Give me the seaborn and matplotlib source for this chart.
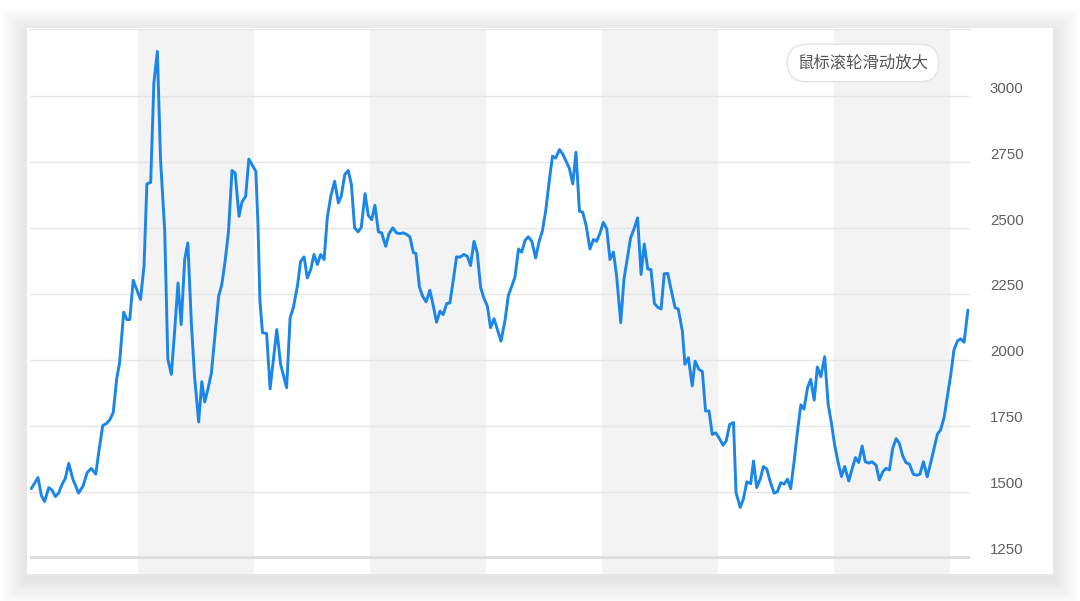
import numpy as np
import pandas as pd
import matplotlib
matplotlib.use("Agg")
import matplotlib.pyplot as plt
from matplotlib.patches import Rectangle
from matplotlib.transforms import ScaledTranslation
import seaborn as sns

# ── data ─────────────────────────────────────────────────────────────────────
START = pd.Timestamp("2011-01-01")

DAYS = [
    -335, -314, -303, -293, -280, -270, -259, -249, -237, -228, -217, -204,
    -186, -172, -159, -146, -132, -122, -110, -98, -87, -77, -66, -57, -44,
    -34, -25, -14, -1, 9, 20, 29, 41, 51, 62, 72, 85, 95, 106, 116, 127, 137,
    148, 158, 169, 179, 192, 202, 211, 221, 232, 244, 255, 265, 276, 286, 297,
    307, 319, 328, 340, 350, 372, 379, 385, 393, 406, 417, 438, 450, 469, 480,
    490, 503, 513, 524, 534, 545, 555, 566, 576, 587, 597, 608, 620, 632, 641,
    652, 663, 673, 683, 694, 704, 716, 726, 737, 747, 758, 768, 781, 791, 803,
    815, 826, 836, 847, 857, 868, 876, 887, 897, 908, 920, 931, 941, 952, 962,
    973, 983, 994, 1004, 1015, 1027, 1038, 1048, 1059, 1069, 1080, 1090, 1101,
    1111, 1122, 1130, 1144, 1157, 1167, 1178, 1188, 1199, 1209, 1220, 1230,
    1241, 1253, 1264, 1274, 1285, 1295, 1306, 1316, 1328, 1338, 1349, 1359,
    1370, 1380, 1391, 1401, 1412, 1424, 1435, 1445, 1456, 1466, 1477, 1487,
    1498, 1508, 1521, 1531, 1542, 1552, 1564, 1574, 1585, 1595, 1606, 1616,
    1627, 1637, 1648, 1658, 1669, 1679, 1692, 1702, 1715, 1723, 1734, 1746,
    1755, 1767, 1778, 1788, 1799, 1809, 1820, 1830, 1843, 1853, 1864, 1876,
    1884, 1897, 1907, 1918, 1930, 1939, 1949, 1960, 1970, 1981, 1991, 2004,
    2014, 2025, 2035, 2046, 2056, 2067, 2077, 2088, 2098, 2109, 2119, 2130,
    2140, 2151, 2163, 2174, 2184, 2195, 2205, 2216, 2226, 2239, 2249, 2260,
    2270, 2281, 2291, 2302, 2312, 2325, 2335, 2346, 2356, 2367, 2377, 2388,
    2398, 2409, 2419, 2430, 2442, 2453, 2463, 2474, 2486, 2497, 2507, 2518,
    2528, 2539, 2549, 2560, 2570, 2581, 2591, 2602, 2614,
]

PRICE = [
    1511, 1553, 1484, 1462, 1515, 1506, 1481, 1494, 1530, 1549, 1607, 1547,
    1494, 1521, 1572, 1588, 1566, 1654, 1751, 1758, 1774, 1800, 1928, 1989, 2181,
    2153, 2153, 2302, 2261, 2229, 2356, 2668, 2674, 3051, 3171, 2760, 2494, 2002,
    1945, 2103, 2292, 2134, 2381, 2444, 2141, 1938, 1764, 1917, 1840, 1888, 1949,
    2103, 2242, 2286, 2381, 2488, 2719, 2709, 2545, 2598, 2621, 2762, 2716, 2507,
    2222, 2103, 2100, 1890, 2115, 1983, 1894, 2160, 2198, 2280, 2374, 2391, 2311,
    2343, 2400, 2362, 2400, 2381, 2539, 2621, 2678, 2596, 2621, 2703, 2719, 2665,
    2501, 2486, 2503, 2631, 2549, 2532, 2587, 2486, 2482, 2431, 2478, 2501, 2482,
    2479, 2482, 2476, 2467, 2407, 2404, 2277, 2242, 2220, 2264, 2204, 2143, 2185,
    2172, 2214, 2216, 2305, 2391, 2390, 2400, 2393, 2358, 2450, 2407, 2274, 2235,
    2204, 2122, 2156, 2125, 2071, 2153, 2244, 2280, 2315, 2421, 2409, 2454, 2467,
    2450, 2387, 2450, 2488, 2568, 2671, 2773, 2766, 2798, 2782, 2754, 2728, 2668,
    2788, 2564, 2561, 2510, 2421, 2457, 2450, 2482, 2522, 2497, 2381, 2409, 2318,
    2141, 2305, 2387, 2463, 2501, 2539, 2324, 2440, 2345, 2343, 2214, 2200, 2193,
    2327, 2328, 2270, 2198, 2193, 2109, 1983, 2008, 1901, 1995, 1964, 1955, 1806,
    1806, 1717, 1723, 1705, 1676, 1692, 1755, 1762, 1496, 1440, 1471, 1537, 1530,
    1616, 1515, 1547, 1595, 1585, 1540, 1494, 1499, 1534, 1528, 1547, 1511, 1616,
    1724, 1829, 1813, 1894, 1926, 1847, 1973, 1936, 2012, 1831, 1762, 1673, 1613,
    1557, 1595, 1540, 1585, 1629, 1610, 1673, 1613, 1608, 1613, 1600, 1544, 1575,
    1588, 1582, 1663, 1701, 1683, 1635, 1610, 1604, 1566, 1562, 1566, 1613, 1556,
    1610, 1661, 1718, 1734, 1781, 1857, 1943, 2037, 2071, 2080, 2067, 2189,
]

SHADED_YEARS = [2011, 2013, 2015, 2017]
Y_TICKS = [1250, 1500, 1750, 2000, 2250, 2500, 2750, 3000]
X_RANGE_DAYS = (-339, 2620)
Y_RANGE = (1187, 3256)
HINT_TEXT = "鼠标滚轮滑动放大"

LINE_COLOR = "#1a86e8"
BAND_COLOR = "#f3f3f3"
GRID_COLOR = "#e6e6e6"

sns.set_theme(style="white")
plt.rcParams["font.family"] = ["Liberation Sans", "Noto Sans CJK SC", "DejaVu Sans"]

W, H, DPI = 1080, 601, 100
fig = plt.figure(figsize=(W / DPI, H / DPI), dpi=DPI)
fig.patch.set_facecolor("white")


def px_rect(x0, y0, x1, y1, **kw):
    # rectangle given in top-left pixel coords, drawn in figure fractions
    return Rectangle((x0 / W, 1 - y1 / H), (x1 - x0) / W, (y1 - y0) / H,
                     transform=fig.transFigure, zorder=-5, **kw)


# soft card shadow + card
CARD = (27, 28, 1053, 574)
for k in range(26, 0, -1):
    fig.patches.append(px_rect(CARD[0] - k, CARD[1] - k + 5, CARD[2] + k,
                               CARD[3] + k + 5, facecolor="black",
                               edgecolor="none", alpha=0.0022))
fig.patches.append(px_rect(*CARD, facecolor="white", edgecolor="none"))

# ── plot area ────────────────────────────────────────────────────────────────
ax = fig.add_axes([30 / W, 1 - 574 / H, 939.8 / W, 545 / H])
ax.set_facecolor("white")

dates = START + pd.to_timedelta(DAYS, unit="D")
df = pd.DataFrame({"date": dates, "price": PRICE})

for yr in SHADED_YEARS:
    ax.axvspan(pd.Timestamp(f"{yr}-01-01"), pd.Timestamp(f"{yr + 1}-01-01"),
               color=BAND_COLOR, lw=0, zorder=0)

for t in Y_TICKS[1:]:
    ax.axhline(t, color=GRID_COLOR, lw=1.0, zorder=1)
ax.axhline(Y_TICKS[0], color="#dddddd", lw=2.2, zorder=1)

sns.lineplot(data=df, x="date", y="price", ax=ax, color=LINE_COLOR,
             linewidth=2.1, zorder=3)

ax.set_xlim(START + pd.Timedelta(days=X_RANGE_DAYS[0]),
            START + pd.Timedelta(days=X_RANGE_DAYS[1]))
ax.set_ylim(*Y_RANGE)
ax.set_xlabel("")
ax.set_ylabel("")
ax.set_xticks([])

for side in ["left", "right", "bottom"]:
    ax.spines[side].set_visible(False)
ax.spines["top"].set_color("#e8e8e8")
ax.spines["top"].set_linewidth(1.0)

ax.yaxis.tick_right()
ax.set_yticks(Y_TICKS)
ax.set_yticklabels([str(t) for t in Y_TICKS])
ax.tick_params(axis="y", length=0, pad=14.5, labelsize=10.8,
               labelcolor="#5f5f5f")
shift = ScaledTranslation(0, 9 / DPI, fig.dpi_scale_trans)
for lab in ax.get_yticklabels():
    lab.set_transform(lab.get_transform() + shift)

# zoom hint pill
ax.text((863 - 30) / 939.8, 1 - (63 - 29) / 545, HINT_TEXT,
        transform=ax.transAxes, ha="center", va="center", fontsize=11.8,
        color="#555555", family=["Noto Sans CJK SC", "DejaVu Sans"], zorder=5,
        bbox=dict(boxstyle="round,pad=0.62,rounding_size=1.15",
                  facecolor="white", edgecolor="#e4e4e4", linewidth=1.0))

fig.savefig("out.png", dpi=DPI, facecolor="white")
